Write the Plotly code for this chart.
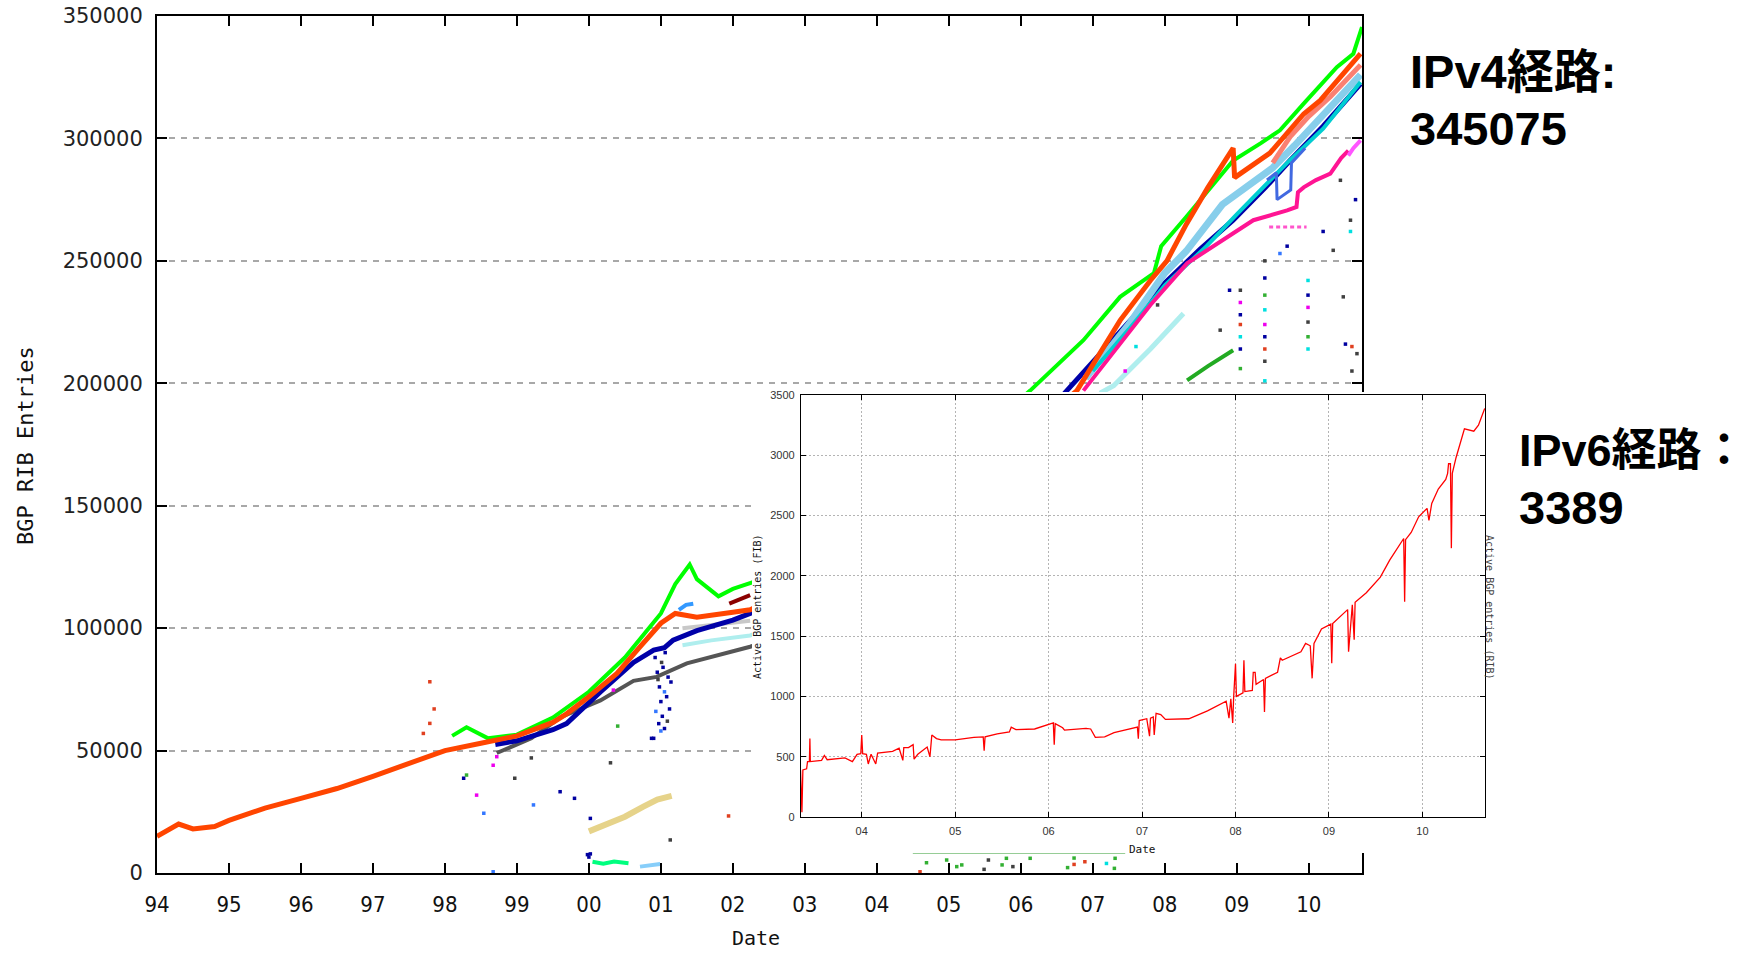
import plotly.graph_objects as go

W, H = 1748, 954

# ---------------- main chart (IPv4 BGP RIB entries) ----------------
year_ticks = list(range(1994, 2011))
year_labels = ["94", "95", "96", "97", "98", "99", "00", "01", "02", "03",
               "04", "05", "06", "07", "08", "09", "10"]
y_ticks = [0, 50000, 100000, 150000, 200000, 250000, 300000, 350000]

orange_x = [1994.0, 1994.3, 1994.5, 1994.8, 1995.0, 1995.5, 1996.0, 1996.5, 1997.0, 1997.5,
            1998.0, 1998.5, 1999.0, 1999.5, 1999.69, 2000.0, 2000.39, 2000.7, 2001.0, 2001.2,
            2001.5, 2002.0, 2002.24, 2003.0, 2004.0, 2005.0, 2006.0, 2006.78, 2007.38, 2007.8,
            2008.03, 2008.3, 2008.6, 2008.95, 2008.97, 2009.46, 2009.93, 2010.16, 2010.72]
orange_y = [15000, 20000, 18000, 19000, 21500, 26500, 30500, 34500, 39500, 45000,
            50000, 53000, 56000, 61500, 65000, 72000, 81500, 92000, 102000, 106000,
            104500, 106500, 107500, 118000, 135000, 155000, 178000, 197000, 225700, 242000,
            250000, 265000, 280000, 296000, 284000, 294000, 310000, 315500, 334600]

green_x = [1998.1, 1998.3, 1998.6, 1999.0, 1999.5, 2000.0, 2000.5, 2000.85, 2001.0, 2001.2,
           2001.4, 2001.5, 2001.8, 2002.0, 2002.3, 2003.0, 2004.0, 2005.0, 2005.7, 2006.13,
           2006.87, 2007.38, 2007.85, 2007.95, 2008.3, 2008.95, 2009.33, 2009.6, 2009.93,
           2010.39, 2010.62, 2010.74]
green_y = [56000, 59500, 55000, 56500, 63500, 74000, 88000, 101000, 106000, 118000,
           126000, 120000, 113000, 116000, 119000, 130000, 148000, 168000, 186000, 197000,
           217600, 235300, 245000, 256000, 268000, 291000, 298000, 303300, 314200,
           329100, 334600, 345500]

navy_x = [1998.7, 1999.0, 1999.5, 1999.69, 2000.16, 2000.62, 2000.9, 2001.05, 2001.17, 2001.5,
          2002.0, 2002.24, 2003.0, 2004.0, 2005.0, 2006.0, 2006.64, 2007.0, 2007.5, 2008.0,
          2008.5, 2008.95, 2009.4, 2009.74, 2010.2, 2010.72]
navy_y = [52500, 54000, 58500, 61000, 74000, 86000, 91000, 92000, 95100, 99000,
          103300, 106000, 117000, 133000, 152000, 176000, 197000, 209000, 225000, 241000,
          255000, 266600, 280000, 291000, 305000, 322300]

gray_x = [1998.72, 1999.2, 1999.6, 2000.16, 2000.62, 2000.94, 2001.36, 2001.8, 2002.24, 2003.0]
gray_y = [49000, 55000, 63500, 70500, 78500, 80100, 85600, 89000, 92400, 100000]

khaki_x = [2000.0, 2000.2, 2000.5, 2000.75, 2000.95, 2001.15]
khaki_y = [17000, 19500, 23000, 27000, 30000, 31500]

spring_x = [2000.05, 2000.2, 2000.35, 2000.55]
spring_y = [4600, 3800, 4700, 4000]

lightsky_x = [2000.71, 2000.85, 2000.99]
lightsky_y = [2600, 3200, 3700]

paleturq_low_x = [2001.3, 2001.7, 2002.24, 2003.0]
paleturq_low_y = [93000, 95000, 97000, 105000]

lightgray_x = [2001.3, 2001.8, 2002.24]
lightgray_y = [100000, 101500, 103000]

darkred_x = [2001.95, 2002.1, 2002.24]
darkred_y = [110000, 112000, 113500]

royal_low_x = [2001.25, 2001.35, 2001.45]
royal_low_y = [107500, 109500, 110000]

skyblue_x = [2006.9, 2007.5, 2008.0, 2008.3, 2008.8, 2009.2, 2009.5, 2009.8, 2010.2, 2010.72]
skyblue_y = [202000, 224000, 245000, 254000, 273000, 282000, 288000, 297000, 310000, 326000]

cyan_x = [2007.0, 2007.5, 2008.0, 2008.58, 2009.0, 2009.7, 2010.2, 2010.72]
cyan_y = [205000, 222000, 240000, 256000, 269000, 290000, 304000, 323000]

pink_x = [2006.87, 2007.3, 2007.8, 2008.31, 2008.95, 2009.23, 2009.7, 2009.83, 2009.85,
          2009.93, 2010.1, 2010.3, 2010.45, 2010.55]
pink_y = [197000, 213000, 232000, 249000, 261000, 266600, 270600, 272000, 278000,
          280000, 283000, 285600, 292000, 295000]

violet_x = [2010.55, 2010.62, 2010.72]
violet_y = [293000, 296000, 299200]

paleturq_up_x = [2007.1, 2007.29, 2007.8, 2008.26]
paleturq_up_y = [196000, 199000, 214000, 228500]

forest_x = [2008.31, 2008.6, 2008.95]
forest_y = [201200, 207000, 213500]

forest_low_x = [2004.5, 2005.5, 2006.5, 2007.45]
forest_low_y = [8600, 8600, 8600, 8600]

royal_up_x = [2009.42, 2009.55, 2009.56, 2009.75, 2009.76, 2009.95]
royal_up_y = [283000, 286000, 275000, 279000, 290000, 296000]

salmon_x = [2009.5, 2009.75, 2010.0, 2010.3, 2010.72]
salmon_y = [290000, 301000, 309000, 317000, 330000]

magenta_dash_x = [2009.45, 2009.97]
magenta_dash_y = [263800, 263800]

# scattered outlier points, grouped by colour
navy_dots_x = [2000.92, 2000.95, 2000.98, 2001.0, 2001.02, 2001.05, 2001.08, 2001.1, 2001.12,
               2000.97, 2001.03, 2000.9, 2001.14, 2001.06, 2000.87, 1999.6, 1999.8, 2000.02,
               1998.26, 2009.05, 2009.05, 2009.39, 2009.39, 2009.99, 2010.51, 2010.65, 2009.7,
               2008.9, 2010.2, 1999.98, 2000.0, 2000.02]
navy_dots_y = [88000, 82000, 76000, 70000, 64000, 59000, 72000, 80000, 67000,
               61000, 84000, 55000, 78000, 90000, 55000, 33200, 30500, 22300,
               38700, 228000, 214000, 243000, 219000, 236000, 216000, 275000, 256000,
               238000, 262000, 7500, 6500, 7800]

gray_dots_x = [1998.97, 2001.13, 2000.96, 2001.01, 2001.09, 2009.05, 2009.39, 2009.39,
               2009.99, 2010.34, 2010.48, 2010.67, 2010.44, 2010.58, 2010.6, 2008.77, 2007.9,
               2005.55, 2005.49, 2005.89, 1999.2, 2000.3]
gray_dots_y = [38700, 13500, 79000, 86000, 62000, 238000, 250000, 209000,
               225000, 254300, 235300, 212100, 282900, 266600, 205000, 221700, 232000,
               5300, 1500, 2600, 47000, 45000]

blue_dots_x = [1998.54, 1999.23, 1998.67, 2001.0, 2001.05, 2000.93, 2009.6]
blue_dots_y = [24400, 27800, 500, 58000, 74000, 66000, 253000]

cyan_dots_x = [2009.05, 2009.39, 2009.39, 2009.99, 2009.99, 2010.58, 2007.19, 2007.6]
cyan_dots_y = [219000, 230000, 201000, 242000, 214000, 262000, 3900, 215000]

magenta_dots_x = [1998.72, 1998.67, 1998.44, 2000.34, 2009.05, 2009.39, 2009.99, 2007.45]
magenta_dots_y = [47500, 44000, 31800, 74700, 233000, 224000, 231000, 205000]

green_dots_x = [2004.69, 2004.97, 2005.18, 2005.11, 2005.74, 2005.8, 2006.13, 2006.65,
                2006.74, 2007.3, 2007.31, 2009.05, 2009.39, 2009.99, 1998.3, 2000.4]
green_dots_y = [4200, 5300, 3300, 2600, 3300, 6000, 6000, 2200,
                6100, 1900, 6000, 206000, 236000, 219000, 40000, 60000]

red_dots_x = [2004.6, 2006.74, 2006.89, 2001.94, 2009.39, 2009.05, 2010.6, 1997.79, 1997.79,
              1997.85, 1997.7]
red_dots_y = [500, 3500, 4600, 23300, 214000, 224000, 215000, 78100, 61100, 67000, 57000]

# ---------------- inset (IPv6 active BGP entries) ----------------
ipv6_ticks = [2004, 2005, 2006, 2007, 2008, 2009, 2010]
ipv6_tick_labels = ["04", "05", "06", "07", "08", "09", "10"]
ipv6_y_ticks = [0, 500, 1000, 1500, 2000, 2500, 3000, 3500]

ipv6_x = [2003.345, 2003.36, 2003.37, 2003.41, 2003.42, 2003.44, 2003.445, 2003.45, 2003.57,
          2003.6, 2003.63, 2003.82, 2003.9, 2003.95, 2003.99, 2004.0, 2004.01, 2004.05,
          2004.07, 2004.1, 2004.15, 2004.17, 2004.33, 2004.4, 2004.44, 2004.45, 2004.5,
          2004.55, 2004.56, 2004.6, 2004.7, 2004.73, 2004.75, 2004.8, 2004.85, 2005.0,
          2005.2, 2005.3, 2005.31, 2005.32, 2005.45, 2005.58, 2005.6, 2005.65, 2005.85,
          2006.0, 2006.05, 2006.06, 2006.07, 2006.15, 2006.17, 2006.4, 2006.45, 2006.5,
          2006.6, 2006.7, 2006.8, 2006.95, 2006.96, 2006.97, 2007.05, 2007.08, 2007.09,
          2007.12, 2007.13, 2007.15, 2007.2, 2007.25, 2007.5, 2007.7, 2007.9, 2007.93,
          2007.95, 2007.97, 2007.98, 2008.0, 2008.01, 2008.08, 2008.09, 2008.1, 2008.18,
          2008.19, 2008.21, 2008.22, 2008.3, 2008.31, 2008.32, 2008.45, 2008.48, 2008.5,
          2008.7, 2008.75, 2008.8, 2008.82, 2008.84, 2008.92, 2009.02, 2009.03, 2009.04,
          2009.2, 2009.21, 2009.25, 2009.27, 2009.28, 2009.4, 2009.55, 2009.65, 2009.75,
          2009.8, 2009.81, 2009.82, 2009.88, 2009.96, 2010.05, 2010.07, 2010.1, 2010.17,
          2010.25, 2010.27, 2010.28, 2010.3, 2010.31, 2010.32, 2010.36, 2010.42, 2010.45,
          2010.55, 2010.6, 2010.667]
ipv6_y = [387, 40, 390, 400, 460, 460, 650, 460, 470,
          510, 475, 490, 460, 520, 525, 680, 525, 520,
          440, 520, 440, 530, 545, 570, 470, 575, 575,
          600, 480, 520, 580, 500, 680, 650, 640, 640,
          660, 665, 550, 665, 690, 705, 745, 725, 730,
          765, 780, 600, 775, 740, 720, 735, 730, 660,
          665, 700, 720, 745, 650, 800, 815, 670, 820,
          830, 680, 860, 850, 810, 815, 880, 960, 820,
          980, 780, 990, 1270, 1000, 1030, 1300, 1040, 1050,
          1200, 1200, 1100, 1140, 870, 1150, 1200, 1320, 1300,
          1370, 1440, 1420, 1150, 1440, 1560, 1600, 1275, 1605,
          1720, 1370, 1760, 1470, 1780, 1860, 1990, 2130, 2250,
          2310, 1785, 2300, 2360, 2490, 2560, 2460, 2600, 2720,
          2800, 2850, 2930, 2930, 2230, 2850, 2980, 3150, 3220,
          3200, 3250, 3389]

# ---------------- figure ----------------
fig = go.Figure()

band_traces = [
    (lightgray_x, lightgray_y, "#C8C8C8", 4),
    (paleturq_low_x, paleturq_low_y, "#AFEEEE", 4),
    (gray_x, gray_y, "#555555", 4),
    (khaki_x, khaki_y, "#E6D38A", 6),
    (spring_x, spring_y, "#00FF7F", 4),
    (lightsky_x, lightsky_y, "#87CEFA", 4),
    (forest_low_x, forest_low_y, "#2E9B2E", 3),
    (paleturq_up_x, paleturq_up_y, "#AFEEEE", 5),
    (navy_x, navy_y, "#0000A8", 5),
    (skyblue_x, skyblue_y, "#87CEEB", 7),
    (cyan_x, cyan_y, "#00CED1", 4),
    (royal_up_x, royal_up_y, "#4169E1", 3),
    (royal_low_x, royal_low_y, "#3399FF", 4),
    (pink_x, pink_y, "#FF1493", 4),
    (violet_x, violet_y, "#FF55FF", 4),
    (salmon_x, salmon_y, "#FA8072", 5),
    (darkred_x, darkred_y, "#8B0000", 4),
    (forest_x, forest_y, "#22AA22", 4),
    (green_x, green_y, "#00FF00", 4),
    (orange_x, orange_y, "#FF4500", 5),
]
for xs, ys, col, wd in band_traces:
    fig.add_trace(go.Scatter(x=xs, y=ys, mode="lines", line=dict(color=col, width=wd),
                             hoverinfo="skip", xaxis="x", yaxis="y"))

fig.add_trace(go.Scatter(x=magenta_dash_x, y=magenta_dash_y, mode="lines",
                         line=dict(color="#FF55CC", width=3, dash="4px,3px"),
                         hoverinfo="skip", xaxis="x", yaxis="y"))

dot_groups = [
    (navy_dots_x, navy_dots_y, "#0000A0"),
    (gray_dots_x, gray_dots_y, "#404040"),
    (blue_dots_x, blue_dots_y, "#3377FF"),
    (cyan_dots_x, cyan_dots_y, "#00E0E0"),
    (magenta_dots_x, magenta_dots_y, "#EE00EE"),
    (green_dots_x, green_dots_y, "#33B033"),
    (red_dots_x, red_dots_y, "#E04020"),
]
for xs, ys, col in dot_groups:
    fig.add_trace(go.Scatter(x=xs, y=ys, mode="markers",
                             marker=dict(color=col, size=3.5, symbol="square"),
                             hoverinfo="skip", xaxis="x", yaxis="y"))

# card (white background of the pasted inset)
fig.add_trace(go.Scatter(x=[0.5], y=[0.5], mode="markers", marker=dict(opacity=0),
                         hoverinfo="skip", xaxis="x2", yaxis="y2"))

# inset IPv6 line
fig.add_trace(go.Scatter(x=ipv6_x, y=ipv6_y, mode="lines",
                         line=dict(color="#FF0000", width=1.3),
                         hoverinfo="skip", xaxis="x3", yaxis="y3"))

cond = "DejaVu Sans Condensed, DejaVu Sans"
mono = "DejaVu Sans Mono"

fig.update_layout(
    width=W, height=H,
    margin=dict(l=0, r=0, t=0, b=0),
    paper_bgcolor="white", plot_bgcolor="white",
    showlegend=False,
    xaxis=dict(domain=[157 / W, 1362 / W], range=[1994, 2010.74],
               tickvals=year_ticks, ticktext=year_labels,
               ticks="inside", ticklen=10, tickwidth=2, tickcolor="black",
               showline=True, linewidth=2, linecolor="black", mirror="ticks",
               showgrid=False, zeroline=False, automargin=False,
               tickfont=dict(family=cond, size=22, color="#111"), ticklabelstandoff=11,
               anchor="y"),
    yaxis=dict(domain=[1 - 873 / H, 1 - 16 / H], range=[0, 350000],
               tickvals=y_ticks, ticktext=[str(v) for v in y_ticks],
               ticks="inside", ticklen=10, tickwidth=2, tickcolor="black",
               showline=True, linewidth=2, linecolor="black", mirror="ticks",
               showgrid=True, gridcolor="#A8A8A8", gridwidth=2, griddash="6px,6px",
               zeroline=False, automargin=False,
               tickfont=dict(family="DejaVu Sans", size=21, color="#222"), ticklabelstandoff=8,
               anchor="x"),
    xaxis2=dict(domain=[752 / W, 1492 / W], range=[0, 1], visible=False, anchor="y2"),
    yaxis2=dict(domain=[1 - 853 / H, 1 - 392 / H], range=[0, 1], visible=False, anchor="x2"),
    xaxis3=dict(domain=[801 / W, 1485 / W], range=[2003.35, 2010.67],
                tickvals=ipv6_ticks, ticktext=ipv6_tick_labels,
                ticks="inside", ticklen=5, tickwidth=1, tickcolor="black",
                showline=True, linewidth=1.2, linecolor="black", mirror="ticks",
                showgrid=True, gridcolor="#B4B4B4", gridwidth=1, griddash="2px,2px",
                zeroline=False, automargin=False,
                tickfont=dict(family="Liberation Sans", size=11, color="#333"),
                ticklabelstandoff=4, anchor="y3"),
    yaxis3=dict(domain=[1 - 817 / H, 1 - 395 / H], range=[0, 3500],
                tickvals=ipv6_y_ticks, ticktext=[str(v) for v in ipv6_y_ticks],
                ticks="inside", ticklen=5, tickwidth=1, tickcolor="black",
                showline=True, linewidth=1.2, linecolor="black", mirror="ticks",
                showgrid=True, gridcolor="#B4B4B4", gridwidth=1, griddash="2px,2px",
                zeroline=False, automargin=False,
                tickfont=dict(family="Liberation Sans", size=11, color="#333"),
                ticklabelstandoff=3, anchor="x3"),
)

big = dict(family="Liberation Sans, Noto Sans CJK JP", size=47, color="black")
big6 = dict(family="Liberation Sans, Noto Sans CJK JP", size=45, color="black")
annos = [
    dict(text="BGP RIB Entries", x=25 / W, y=1 - 446 / H, textangle=-90,
         font=dict(family=mono, size=22, color="#111"), xanchor="center", yanchor="middle"),
    dict(text="Date", x=756 / W, y=1 - 938 / H, font=dict(family=mono, size=20, color="#111"),
         xanchor="center", yanchor="middle", borderpad=0),
    dict(text="Date", x=1142 / W, y=1 - 849 / H,
         font=dict(family=mono, size=11, color="#111"),
         xanchor="center", yanchor="middle"),
    dict(text="Active BGP entries (FIB)", x=757 / W, y=1 - 607 / H, textangle=-90,
         font=dict(family=mono, size=10, color="#111"),
         xanchor="center", yanchor="middle"),
    dict(text="Active BGP entries (RIB)", x=1490 / W, y=1 - 607 / H, textangle=90,
         font=dict(family=mono, size=10, color="#444"),
         xanchor="center", yanchor="middle"),
    dict(text="<b>IPv4経路:</b>", x=1408 / W, y=1 - 72 / H, font=big,
         xanchor="left", yanchor="middle"),
    dict(text="<b>345075</b>", x=1408 / W, y=1 - 129 / H, font=big,
         xanchor="left", yanchor="middle"),
    dict(text="<b>IPv6経路：</b>", x=1517 / W, y=1 - 450 / H, font=big6,
         xanchor="left", yanchor="middle"),
    dict(text="<b>3389</b>", x=1517 / W, y=1 - 507 / H, font=big,
         xanchor="left", yanchor="middle"),
]
for a in annos:
    a.update(xref="paper", yref="paper", showarrow=False)
fig.update_layout(annotations=annos)

fig.write_html("out.html", config={"displayModeBar": False},
               post_script="document.body.style.margin='0px';"
                           "document.body.style.overflow='hidden';")
